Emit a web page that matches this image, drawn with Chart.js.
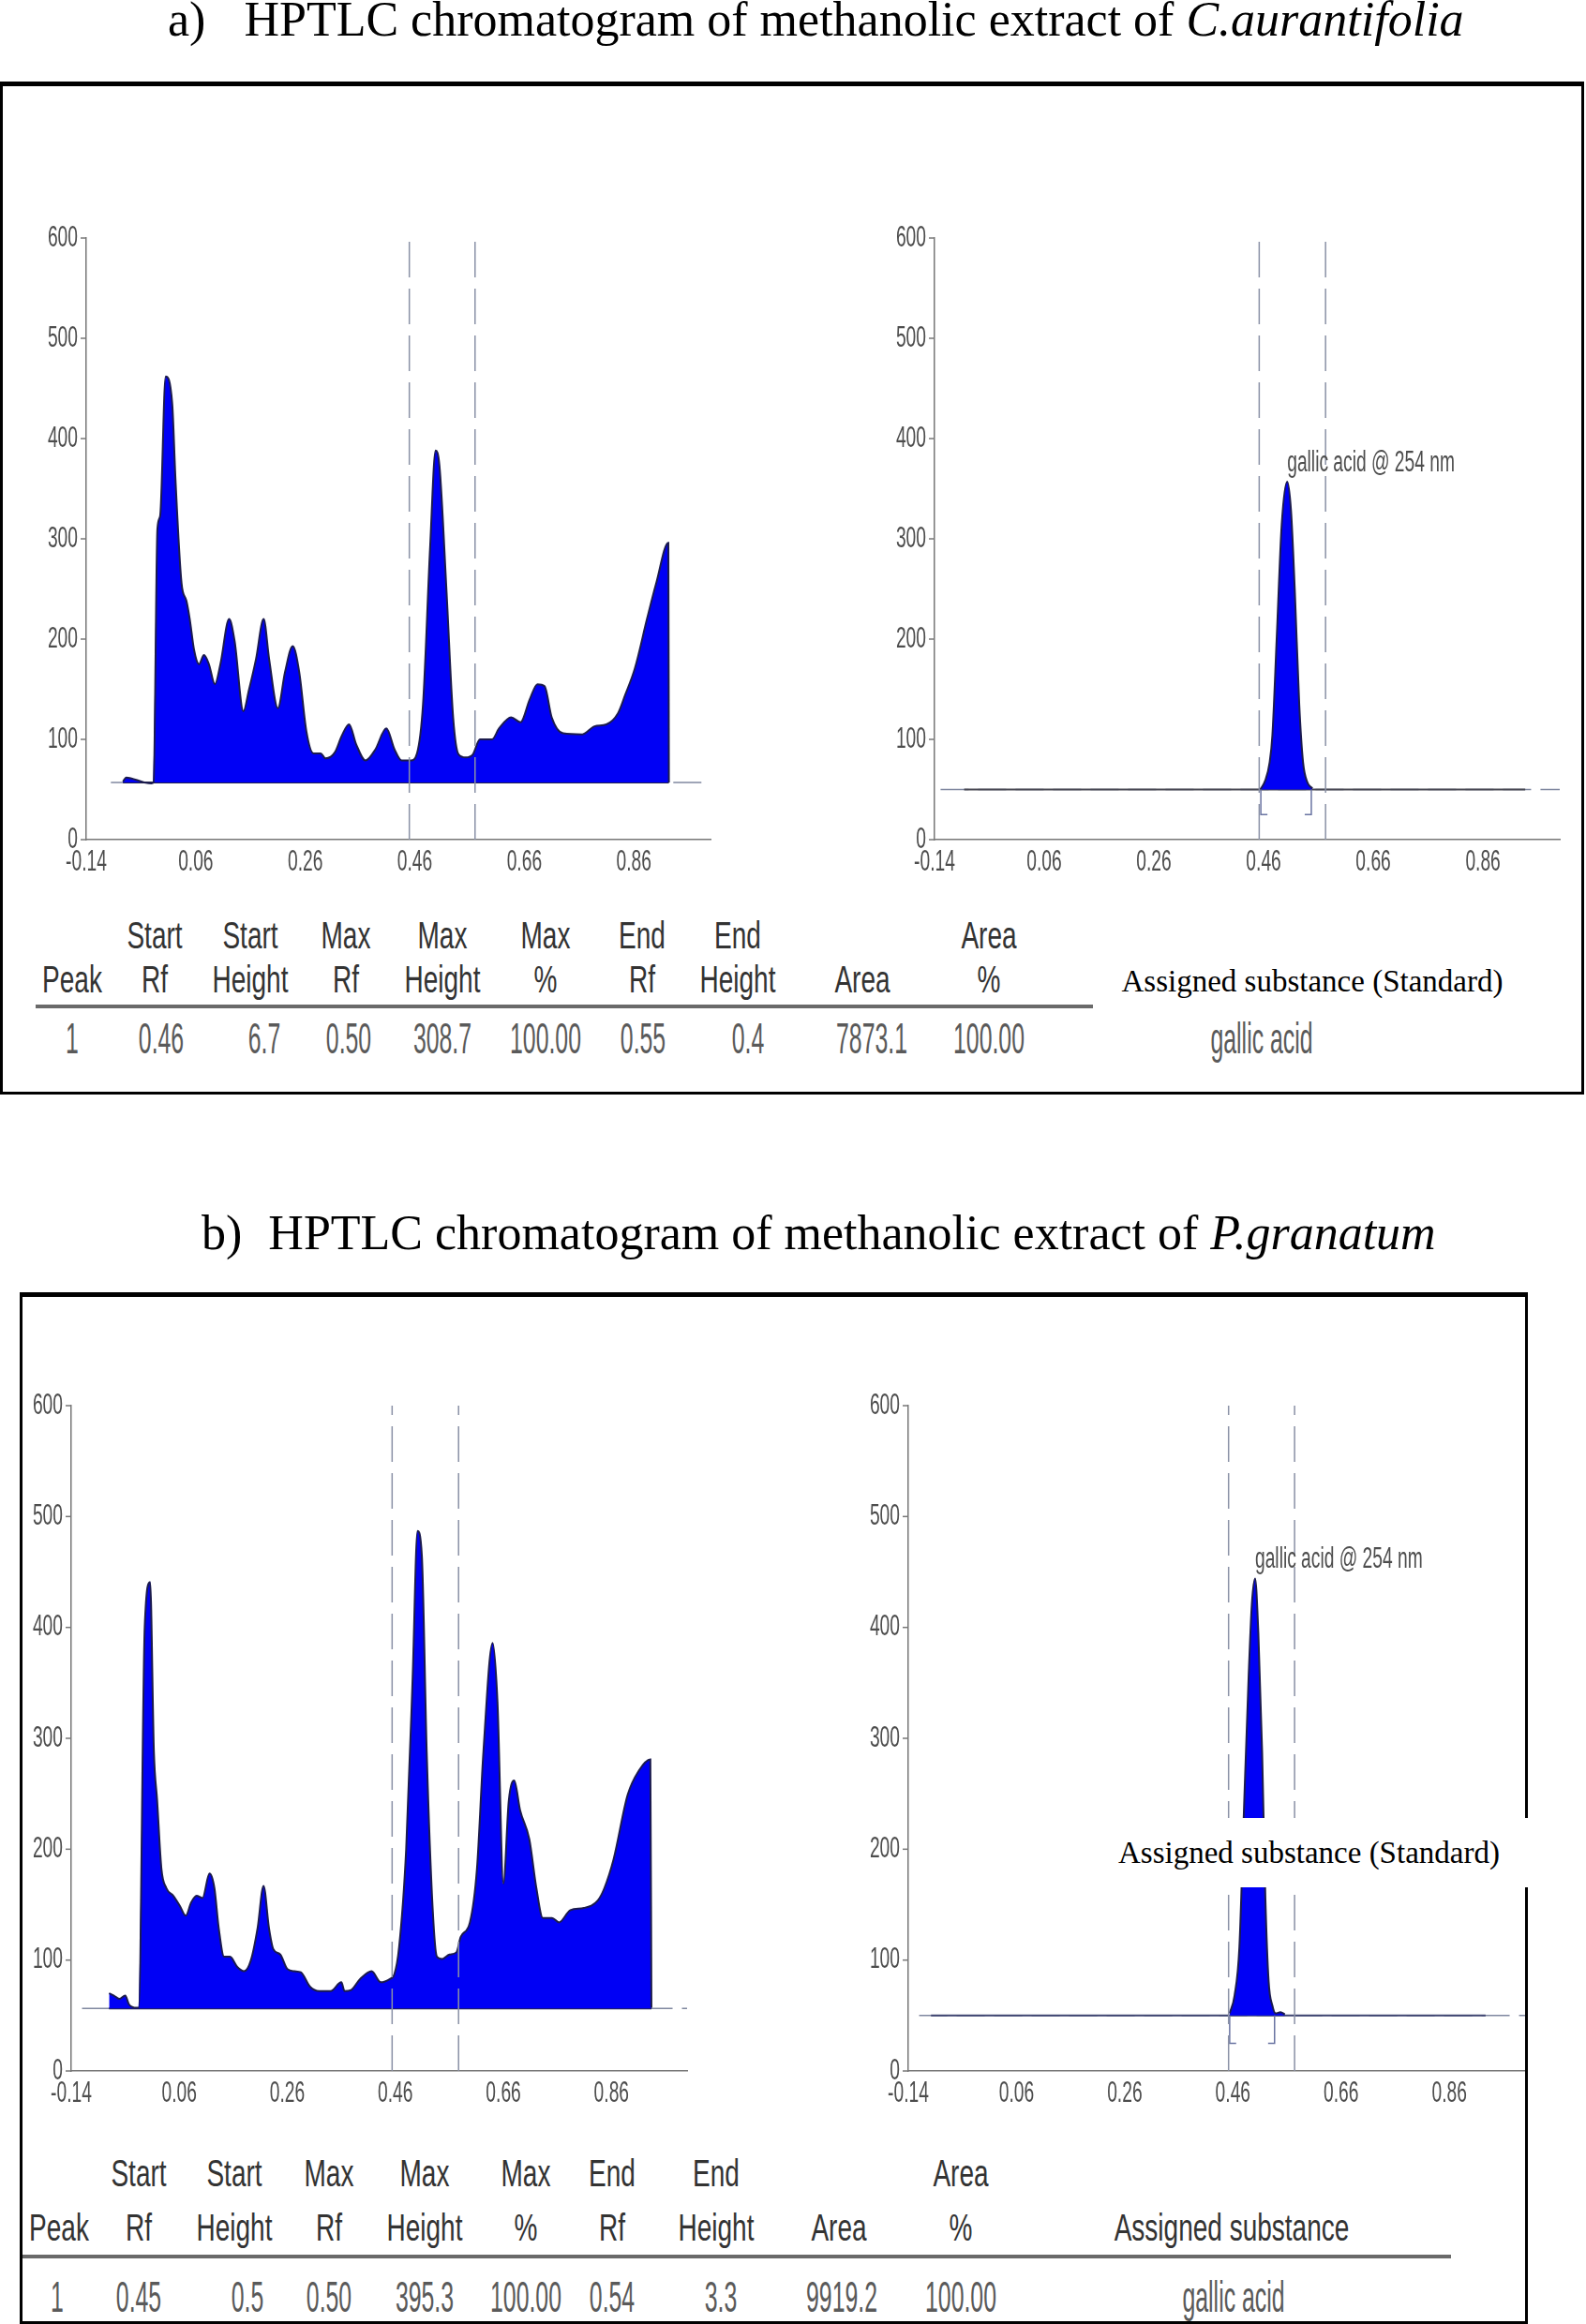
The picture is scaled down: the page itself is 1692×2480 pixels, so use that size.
<!DOCTYPE html>
<html>
<head>
<meta charset="utf-8">
<script src="https://cdn.jsdelivr.net/npm/chart.js@4.4.0/dist/chart.umd.min.js"></script>
<style>
  body { margin: 0; background: #fff; }
  #page { position: relative; width: 1692px; height: 2480px; overflow: hidden; background: #fff; }
  .title { position: absolute; font-family: "Liberation Serif", "Times New Roman", serif; font-size: 52px; line-height: 1; white-space: nowrap; color: #000; }
  .panel { position: absolute; box-sizing: border-box; border: 3px solid #000; border-top-width: 5px; }
  canvas { position: absolute; }
  .cell { position: absolute; white-space: nowrap; font-family: "Liberation Sans", Arial, sans-serif; line-height: 1; }
  .serif { position: absolute; white-space: nowrap; font-family: "Liberation Serif", "Times New Roman", serif; font-size: 33px; line-height: 1; color: #000; }
  #cover { position: absolute; left: 1178px; top: 1940px; width: 462px; height: 74px; background: #fff; z-index: 5; }
</style>
</head>
<body>
<div id="page">
  <div class="title" style="left:179px;top:-5px">a)<span style="margin-left:41px">HPTLC chromatogram of methanolic extract of <i>C.aurantifolia</i></span></div>
  <div class="panel" style="left:0;top:87px;width:1690px;height:1081px"></div>
  <div class="title" style="left:215px;top:1290px">b)<span style="margin-left:28px">HPTLC chromatogram of methanolic extract of <i>P.granatum</i></span></div>
  <div class="panel" style="left:21px;top:1379px;width:1609px;height:1101px"></div>

  <canvas id="aSample"></canvas>
  <canvas id="aStd"></canvas>
  <canvas id="bSample"></canvas>
  <canvas id="bStd"></canvas>

  <div id="cover"><div class="serif" style="left:15px;top:21px">Assigned substance (Standard)</div></div>
</div>

<script>
// axes
const rfTicks = [-0.14, 0.06, 0.26, 0.46, 0.66, 0.86];
const auTicks = [0, 100, 200, 300, 400, 500, 600];

// a) C. aurantifolia track
const aSampleRf = [-0.073, -0.067, -0.034, -0.021, -0.017, -0.010, -0.005, 0.005, 0.017, 0.023,
  0.034, 0.043, 0.049, 0.057, 0.066, 0.075, 0.084, 0.095, 0.105, 0.121,
  0.131, 0.147, 0.157, 0.170, 0.184, 0.194, 0.210, 0.223, 0.237, 0.249,
  0.262, 0.275, 0.288, 0.297, 0.314, 0.327, 0.340, 0.353, 0.370, 0.388,
  0.408, 0.423, 0.436, 0.453, 0.464, 0.475, 0.488, 0.498, 0.505, 0.518,
  0.530, 0.540, 0.553, 0.566, 0.579, 0.601, 0.614, 0.636, 0.653, 0.670,
  0.684, 0.697, 0.710, 0.731, 0.766, 0.788, 0.810, 0.831, 0.844, 0.862,
  0.884, 0.901, 0.923, 0.924];
const aSampleAU = [58, 62, 57, 56, 57, 310, 323, 462, 435, 359,
  256, 238, 220, 189, 175, 184, 175, 155, 175, 220,
  198, 128, 149, 180, 220, 180, 131, 167, 193, 167,
  108, 86, 86, 81, 87, 104, 115, 95, 79, 90,
  111, 90, 79, 79, 86, 135, 292, 388, 373, 247,
  122, 85, 82, 85, 100, 100, 111, 122, 117, 140,
  155, 153, 122, 106, 105, 113, 115, 126, 144, 171,
  220, 256, 296, 57];
const aSampleBase = 57;
const aSampleWindow = [0.450, 0.570];

// a) gallic acid standard
const aStdRf = [0.454, 0.463, 0.471, 0.476, 0.484, 0.493, 0.503, 0.510, 0.517, 0.525, 0.532, 0.540, 0.549];
const aStdAU = [50, 59, 77, 104, 202, 314, 357, 328, 247, 135, 77, 57, 51];
const aStdBase = 50;
const aStdWindow = [0.452, 0.573];
const aStdBracket = [0.455, 0.547];

// b) P. granatum track
const bSampleRf = [-0.070, -0.061, -0.051, -0.040, -0.033, -0.019, -0.015, -0.004, 0.006, 0.013,
  0.019, 0.027, 0.036, 0.049, 0.061, 0.072, 0.082, 0.092, 0.103, 0.116,
  0.125, 0.133, 0.143, 0.154, 0.167, 0.180, 0.192, 0.205, 0.216, 0.226,
  0.234, 0.247, 0.260, 0.273, 0.285, 0.302, 0.319, 0.340, 0.360, 0.366,
  0.378, 0.395, 0.416, 0.433, 0.450, 0.458, 0.467, 0.480, 0.492, 0.501,
  0.509, 0.518, 0.529, 0.537, 0.547, 0.560, 0.573, 0.581, 0.598, 0.611,
  0.623, 0.640, 0.649, 0.660, 0.670, 0.680, 0.691, 0.708, 0.721, 0.733,
  0.750, 0.763, 0.784, 0.809, 0.835, 0.847, 0.864, 0.890, 0.911, 0.932,
  0.934];
const bSampleAU = [70, 68, 65, 68, 60, 57, 57, 400, 441, 288,
  244, 182, 165, 158, 149, 140, 152, 158, 156, 178,
  165, 129, 103, 103, 94, 90, 99, 129, 167, 129,
  110, 105, 92, 90, 89, 76, 72, 72, 80, 72,
  73, 83, 90, 80, 83, 87, 112, 200, 355, 487,
  465, 288, 147, 103, 101, 105, 107, 121, 134, 182,
  288, 386, 333, 169, 244, 262, 235, 209, 165, 138,
  138, 134, 145, 147, 154, 165, 191, 249, 271, 281,
  57];
const bSampleBase = 56.5;
const bSampleWindow = [0.454, 0.577];

// b) gallic acid standard
const bStdRf = [0.454, 0.463, 0.472, 0.481, 0.489, 0.495, 0.501, 0.507, 0.514, 0.520, 0.526, 0.533, 0.539, 0.548, 0.556];
const bStdAU = [52, 68, 112, 244, 355, 421, 444, 395, 288, 156, 81, 59, 52, 53, 51];
const bStdBase = 50;
const bStdWindow = [0.452, 0.574];
const bStdBracket = [0.454, 0.537];

const stdLabel = 'gallic acid @ 254 nm';

// peak tables
const tableHead1 = ['', 'Start', 'Start', 'Max', 'Max', 'Max', 'End', 'End', '', 'Area'];
const tableHead2 = ['Peak', 'Rf', 'Height', 'Rf', 'Height', '%', 'Rf', 'Height', 'Area', '%'];
const aTableRow = ['1', '0.46', '6.7', '0.50', '308.7', '100.00', '0.55', '0.4', '7873.1', '100.00'];
const bTableRow = ['1', '0.45', '0.5', '0.50', '395.3', '100.00', '0.54', '3.3', '9919.2', '100.00'];
const substance = 'gallic acid';

function narrowText(ctx, text, x, y, align) {
  ctx.save();
  ctx.translate(x, y);
  ctx.scale(0.62, 1);
  ctx.textAlign = align;
  ctx.fillText(text, 0, 0);
  ctx.restore();
}

function chromatogram(id, box, area, cfg) {
  const cv = document.getElementById(id);
  cv.width = box.w; cv.height = box.h;
  cv.style.left = box.x + 'px'; cv.style.top = box.y + 'px';
  cv.style.width = box.w + 'px'; cv.style.height = box.h + 'px';

  const pts = (xs, ys) => xs.map((v, i) => ({x: v, y: ys[i]}));
  const line = (data, color, width, dash) => ({
    data, borderColor: color, borderWidth: width, borderDash: dash || [],
    pointRadius: 0, fill: false, tension: 0
  });

  const ds = [];
  cfg.window.forEach(w => ds.push(line([{x: w, y: 0}, {x: w, y: 600}], '#8a91a6', 1.5, [38, 12])));
  if (cfg.bracket) {
    const [b0, b1] = cfg.bracket;
    ds.push(line([{x: b0, y: cfg.base}, {x: b0, y: 25}, {x: b0 + 0.012, y: 25}], '#6a74a2', 1.5));
    ds.push(line([{x: b1 - 0.012, y: 25}, {x: b1, y: 25}, {x: b1, y: cfg.base}], '#6a74a2', 1.5));
  }
  ds.push({
    data: pts(cfg.rf, cfg.au), borderColor: '#1b1b4d', borderWidth: 2,
    backgroundColor: '#0000f5', fill: {value: cfg.base}, pointRadius: 0,
    cubicInterpolationMode: 'monotone'
  });
  ds.push(line([{x: cfg.solid[0], y: cfg.base}, {x: cfg.solid[1], y: cfg.base}], cfg.solidColor, 2));
  ds.push(line([{x: cfg.dashed[0], y: cfg.base}, {x: 1.0, y: cfg.base}], '#8088a0', 1.5, [30, 10]));

  const axisText = {
    id: 'axisText',
    afterDraw(chart) {
      const {ctx, scales: {x, y}} = chart;
      ctx.save();
      ctx.fillStyle = '#4d4d4d';
      ctx.strokeStyle = '#777';
      ctx.lineWidth = 1.5;
      ctx.font = '31px "Liberation Sans", Arial, sans-serif';
      ctx.textBaseline = 'middle';
      y.ticks.forEach(t => {
        const py = y.getPixelForValue(t.value);
        ctx.beginPath(); ctx.moveTo(x.left - 6, py); ctx.lineTo(x.left, py); ctx.stroke();
        narrowText(ctx, String(t.value), x.left - 9, py, 'right');
      });
      x.ticks.forEach(t => {
        narrowText(ctx, t.value.toFixed(2), x.getPixelForValue(t.value), y.bottom + 24, 'center');
      });
      if (cfg.label) {
        const i = cfg.au.indexOf(Math.max(...cfg.au));
        narrowText(ctx, cfg.label, x.getPixelForValue(cfg.rf[i]), y.getPixelForValue(cfg.au[i]) - 20, 'left');
      }
      ctx.restore();
    }
  };

  new Chart(cv, {
    type: 'line',
    data: {datasets: ds},
    options: {
      responsive: false,
      animation: false,
      events: [],
      layout: {padding: {
        left: area.l - box.x, top: area.t - box.y,
        right: box.x + box.w - area.r, bottom: box.y + box.h - area.b
      }},
      plugins: {legend: {display: false}, tooltip: {enabled: false}},
      scales: {
        x: {
          type: 'linear', min: -0.14, max: 1.0,
          afterBuildTicks: s => { s.ticks = rfTicks.map(v => ({value: v})); },
          ticks: {display: false},
          grid: {display: false, drawTicks: false},
          border: {color: '#777', width: 1.5}
        },
        y: {
          type: 'linear', min: 0, max: 600,
          afterBuildTicks: s => { s.ticks = auTicks.map(v => ({value: v})); },
          ticks: {display: false},
          grid: {display: false, drawTicks: false},
          border: {color: '#777', width: 1.5}
        }
      }
    },
    plugins: [axisText]
  });
}

chromatogram('aSample', {x: 20, y: 220, w: 780, h: 730}, {l: 92, t: 254, r: 758, b: 896}, {
  rf: aSampleRf, au: aSampleAU, base: aSampleBase, window: aSampleWindow,
  solid: [aSampleRf[0], aSampleRf[aSampleRf.length - 1]], solidColor: '#23234a', dashed: [-0.095]
});
chromatogram('aStd', {x: 920, y: 220, w: 765, h: 730}, {l: 997, t: 254, r: 1664, b: 896}, {
  rf: aStdRf, au: aStdAU, base: aStdBase, window: aStdWindow, bracket: aStdBracket,
  solid: [-0.086, 0.937], solidColor: '#4a4a55', dashed: [-0.129], label: stdLabel
});
chromatogram('bSample', {x: 26, y: 1460, w: 760, h: 800}, {l: 76, t: 1500, r: 733, b: 2210}, {
  rf: bSampleRf, au: bSampleAU, base: bSampleBase, window: bSampleWindow,
  solid: [bSampleRf[0], bSampleRf[bSampleRf.length - 1]], solidColor: '#23234a', dashed: [-0.12]
});
chromatogram('bStd', {x: 900, y: 1460, w: 727, h: 800}, {l: 969, t: 1500, r: 1627, b: 2210}, {
  rf: bStdRf, au: bStdAU, base: bStdBase, window: bStdWindow, bracket: bStdBracket,
  solid: [-0.098, 0.927], solidColor: '#3e4470', dashed: [-0.12], label: stdLabel
});

// tables
const page = document.getElementById('page');
function cell(text, cx, cy, size, sx, color) {
  const d = document.createElement('div');
  d.className = 'cell';
  d.textContent = text;
  d.style.left = cx + 'px'; d.style.top = cy + 'px';
  d.style.fontSize = size + 'px'; d.style.color = color;
  d.style.transform = 'translate(-50%,-50%) scaleX(' + sx + ')';
  page.appendChild(d);
}
function peakTable(row, L) {
  tableHead1.forEach((t, i) => { if (t) cell(t, L.headX[i], L.y1, 40, 0.7, '#333'); });
  tableHead2.forEach((t, i) => cell(t, L.headX[i], L.y2, 40, 0.7, '#333'));
  row.forEach((t, i) => cell(t, L.dataX[i], L.yData, 46, 0.54, '#5a5a5a'));
  const ln = document.createElement('div');
  ln.style.cssText = 'position:absolute;background:#6a6a6a;height:4px;left:' + L.line[0] + 'px;width:' + (L.line[1] - L.line[0]) + 'px;top:' + (L.yLine - 2) + 'px';
  page.appendChild(ln);
  cell(substance, L.subX, L.yData, 46, 0.54, '#5a5a5a');
}
peakTable(aTableRow, {
  headX: [77, 165, 267, 369, 472, 582, 685, 787, 920, 1055],
  dataX: [77, 172, 282, 372, 472, 582, 686, 798, 930, 1055],
  y1: 998, y2: 1045, yLine: 1074, yData: 1108, line: [38, 1166], subX: 1346
});
peakTable(bTableRow, {
  headX: [63, 148, 250, 351, 453, 561, 653, 764, 895, 1025],
  dataX: [61, 148, 264, 351, 453, 561, 653, 769, 898, 1025],
  y1: 2319, y2: 2377, yLine: 2408, yData: 2451, line: [24, 1548], subX: 1316
});
cell('Assigned substance', 1314, 2377, 40, 0.7, '#333');
const std = document.createElement('div');
std.className = 'serif';
std.textContent = 'Assigned substance (Standard)';
std.style.left = '1400px'; std.style.top = '1047px';
std.style.transform = 'translate(-50%,-50%)';
page.appendChild(std);
</script>
</body>
</html>
